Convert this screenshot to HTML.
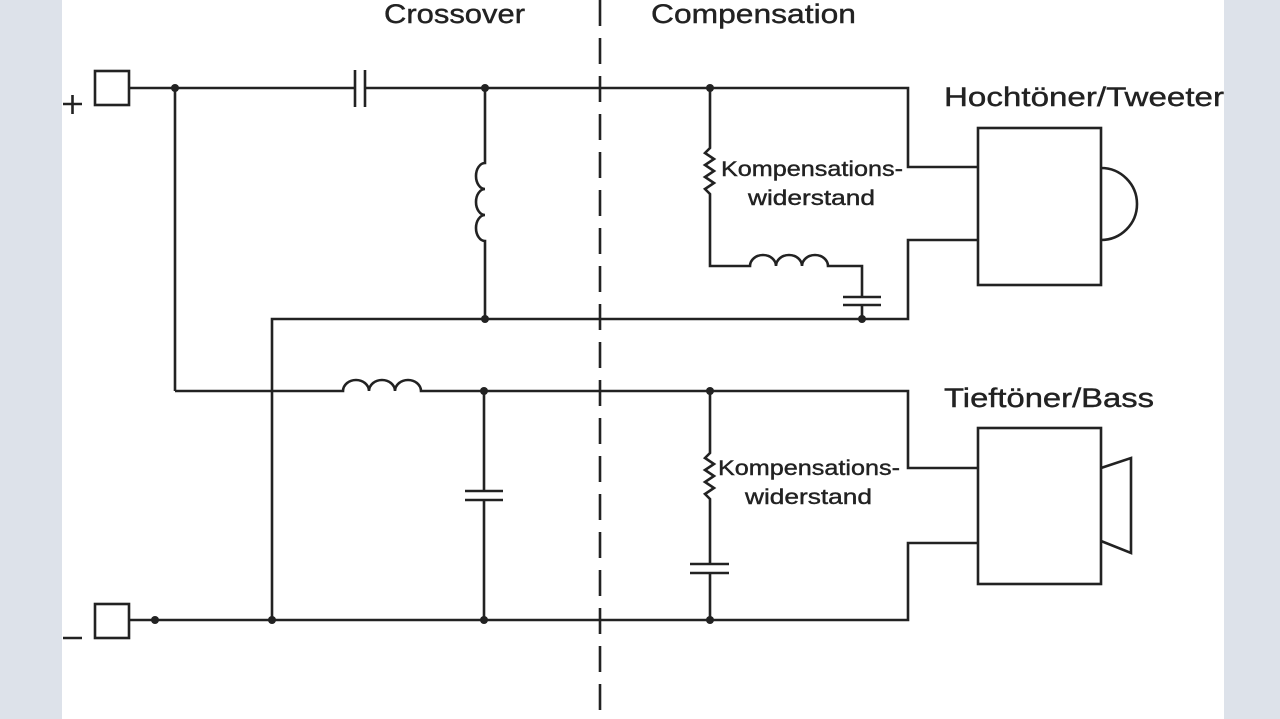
<!DOCTYPE html>
<html><head><meta charset="utf-8"><style>
html,body{margin:0;padding:0;background:#dde2ea;}
svg{display:block}
text{font-family:"Liberation Sans",sans-serif;fill:#222;stroke:#222;stroke-width:0.4}
</style></head><body>
<svg width="1280" height="719" viewBox="0 0 1280 719">
<rect x="0" y="0" width="1280" height="719" fill="#dde2ea"/>
<rect x="62" y="0" width="1162" height="719" fill="#fff"/>
<g stroke="#222" stroke-width="2.6" fill="none">
<line x1="600" y1="0" x2="600" y2="719" stroke-dasharray="26,12"/>
<rect x="95" y="71" width="34" height="34"/>
<rect x="95" y="604" width="34" height="34"/>
<path d="M129 88H355M365 88H908V167H978"/>
<path d="M355 70V107M365 70V107"/>
<path d="M175 88V391"/>
<path d="M485 88V163 a9 13 0 0 0 0 26 a9 13 0 0 0 0 26 a9 13 0 0 0 0 26 V319"/>
<path d="M272 620V319H908V240H978"/>
<path d="M710 88V148 l-5 5 l9 6 l-9 6 l9 6 l-9 6 l9 6 l-9 6 l5 5 V266H750 a13 11 0 0 1 26 0 a13 11 0 0 1 26 0 a13 11 0 0 1 26 0 H862V297M862 305V319"/>
<path d="M843 297H881M843 305H881"/>
<rect x="978" y="128" width="123" height="157"/>
<path d="M1101 168 a36 36 0 0 1 0 72"/>
<path d="M175 391H343 a13 11 0 0 1 26 0 a13 11 0 0 1 26 0 a13 11 0 0 1 26 0 H908V468H978"/>
<path d="M484 391V491M484 500V620M465 491H503M465 500H503"/>
<path d="M710 391V453 l-5 5 l9 6 l-9 6 l9 6 l-9 6 l9 6 l-9 6 l5 5 V564M710 573V620M690 564H729M690 573H729"/>
<path d="M129 620H908V543H978"/>
<rect x="978" y="428" width="123" height="156"/>
<path d="M1101 468L1131 458V553L1101 541"/>
<path d="M63 104H82M72.5 95V114M63 638H82"/>
</g>
<g fill="#222">
<circle cx="175" cy="88" r="4"/><circle cx="485" cy="88" r="4"/><circle cx="710" cy="88" r="4"/>
<circle cx="485" cy="319" r="4"/><circle cx="862" cy="319" r="4"/>
<circle cx="484" cy="391" r="4"/><circle cx="710" cy="391" r="4"/>
<circle cx="155" cy="620" r="4"/><circle cx="272" cy="620" r="4"/><circle cx="484" cy="620" r="4"/><circle cx="710" cy="620" r="4"/>
</g>
<text x="384" y="23" font-size="27" textLength="141" lengthAdjust="spacingAndGlyphs">Crossover</text>
<text x="651" y="23" font-size="27" textLength="205" lengthAdjust="spacingAndGlyphs">Compensation</text>
<text x="944" y="106" font-size="27" textLength="280" lengthAdjust="spacingAndGlyphs">Hochtöner/Tweeter</text>
<text x="944" y="407" font-size="27" textLength="210" lengthAdjust="spacingAndGlyphs">Tieftöner/Bass</text>
<text x="721" y="176" font-size="21" textLength="182" lengthAdjust="spacingAndGlyphs">Kompensations-</text>
<text x="748" y="205" font-size="21" textLength="127" lengthAdjust="spacingAndGlyphs">widerstand</text>
<text x="718" y="475" font-size="21" textLength="182" lengthAdjust="spacingAndGlyphs">Kompensations-</text>
<text x="745" y="504" font-size="21" textLength="127" lengthAdjust="spacingAndGlyphs">widerstand</text>
</svg>
</body></html>
